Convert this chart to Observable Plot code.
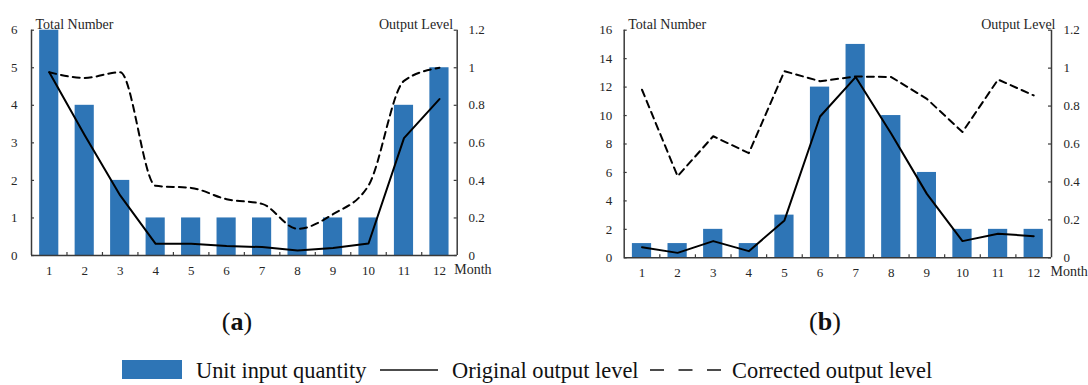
<!DOCTYPE html>
<html>
<head>
<meta charset="utf-8">
<script src="https://cdn.jsdelivr.net/npm/d3@7"></script>
<script src="https://cdn.jsdelivr.net/npm/@observablehq/plot@0.6"></script>
<style>
  body { margin: 0; background: #fff; font-family: "Liberation Serif", "Times New Roman", serif; }
  #root { position: relative; width: 1088px; height: 385px; overflow: hidden; background: #fff; }
  .abs { position: absolute; }
  .leg { position: absolute; font-size: 22.4px; line-height: 22px; color: #111; white-space: nowrap; }
  .cap { position: absolute; font-size: 26px; line-height: 26px; color: #111; width: 100px; text-align: center; }
</style>
</head>
<body>
<div id="root">
  <div id="chartA" class="abs" style="left:0;top:0"></div>
  <div id="chartB" class="abs" style="left:540px;top:0"></div>
  <div class="cap" style="left:187px;top:309px">(<b>a</b>)</div>
  <div class="cap" style="left:775px;top:309px">(<b>b</b>)</div>
  <div class="abs" style="left:122px;top:360px;width:60px;height:19px;background:#2e75b6"></div>
  <div class="leg" id="leg1" style="left:196px;top:360px"></div>
  <svg class="abs" style="left:380px;top:365px" width="60" height="10"><line x1="0" x2="58" y1="5" y2="5" stroke="#111" stroke-width="1.6"/></svg>
  <div class="leg" id="leg2" style="left:452px;top:360px"></div>
  <svg class="abs" style="left:650px;top:365px" width="75" height="10"><line x1="0" x2="71" y1="5" y2="5" stroke="#111" stroke-width="1.6" stroke-dasharray="14,14.5"/></svg>
  <div class="leg" id="leg3" style="left:732px;top:360px"></div>
</div>
<script>
// ---- data ----
const months = [1, 2, 3, 4, 5, 6, 7, 8, 9, 10, 11, 12];

// (a)
const countsA = [6, 4, 2, 1, 1, 1, 1, 1, 1, 1, 4, 5];
const originalA = [0.976, 0.64, 0.32, 0.062, 0.062, 0.05, 0.045, 0.027, 0.04, 0.064, 0.625, 0.833];
const correctedA = [0.976, 0.946, 0.976, 0.371, 0.36, 0.30, 0.275, 0.142, 0.22, 0.373, 0.93, 1.0];
const countTicksA = [0, 1, 2, 3, 4, 5, 6];

// (b)
const countsB = [1, 1, 2, 1, 3, 12, 15, 10, 6, 2, 2, 2];
const originalB = [0.056, 0.026, 0.088, 0.035, 0.197, 0.745, 0.953, 0.654, 0.337, 0.088, 0.127, 0.114];
const correctedB = [0.886, 0.43, 0.641, 0.552, 0.984, 0.931, 0.956, 0.953, 0.838, 0.663, 0.94, 0.856];
const countTicksB = [0, 2, 4, 6, 8, 10, 12, 14, 16];

const levelTicks = [0, 0.2, 0.4, 0.6, 0.8, 1, 1.2];

const leftTitle = "Total Number";
const rightTitle = "Output Level";
const xTitle = "Month";
const legendLabels = ["Unit input quantity", "Original output level", "Corrected output level"];

// ---- drawing ----
const FONT = '"Liberation Serif", "Times New Roman", serif';
const BAR = "#2e75b6";
const AXIS = "#3a3a3a";

function drawChart(o) {
  const countMax = o.countTicks[o.countTicks.length - 1];
  const k = countMax / levelTicks[levelTicks.length - 1];
  const rows = months.map((m, i) => ({
    month: m, count: o.counts[i], original: o.original[i] * k, corrected: o.corrected[i] * k
  }));
  const bounds = months.slice(0, -1).map(m => m + 0.5);
  return Plot.plot({
    width: o.width, height: 290,
    marginTop: 29.7, marginBottom: o.marginBottom, marginLeft: o.marginLeft, marginRight: o.marginRight,
    x: {domain: [0.5, 12.5], axis: null},
    y: {domain: [0, countMax], axis: null, label: null},
    style: {fontFamily: FONT, fontSize: "13px", color: "#262626", background: "transparent", overflow: "visible"},
    marks: [
      Plot.rectY(rows, {x1: d => d.month - 0.27, x2: d => d.month + 0.27, y1: 0, y2: "count", fill: BAR}),
      Plot.line(rows, {x: "month", y: "corrected", stroke: "#000", strokeWidth: 2, strokeDasharray: "7,5", curve: o.curveCorrected}),
      Plot.line(rows, {x: "month", y: "original", stroke: "#000", strokeWidth: 2}),
      Plot.ruleX([0.5, 12.5], {stroke: AXIS, strokeWidth: 1.5}),
      Plot.ruleY([0], {stroke: AXIS, strokeWidth: 1.5}),
      Plot.ruleY(o.countTicks, {x1: 0.5, x2: 0.5, insetRight: -3, stroke: AXIS, strokeWidth: 1.2}),
      Plot.ruleY(levelTicks.map(v => v * k), {x1: 12.5, x2: 12.5, insetLeft: -3, stroke: AXIS, strokeWidth: 1.2}),
      Plot.ruleX(bounds, {y1: 0, y2: 0, insetTop: -3, stroke: AXIS, strokeWidth: 1.2}),
      Plot.axisY({anchor: "left", ticks: o.countTicks, tickSize: 0, tickPadding: o.padLeft, label: null,
                  tickFormat: d => String(d)}),
      Plot.axisY({anchor: "right", ticks: levelTicks.map(v => v * k), tickSize: 0, tickPadding: o.padRight, label: null,
                  tickFormat: d => String(Math.round(d / k * 10) / 10)}),
      Plot.axisX({anchor: "bottom", ticks: months, tickSize: 0, tickPadding: 10, label: null, tickFormat: d => String(d)}),
      Plot.text([leftTitle], {frameAnchor: "top-left", dx: 4, dy: -11.5, textAnchor: "start", fontSize: 14}),
      Plot.text([rightTitle], {frameAnchor: "top-right", dx: o.outDx, dy: -11.5, textAnchor: "end", fontSize: 14}),
      Plot.text([xTitle], {frameAnchor: "bottom-right", dx: o.monthDx, dy: o.monthDy, textAnchor: "start", fontSize: 14})
    ]
  });
}

document.getElementById("chartA").appendChild(drawChart({
  counts: countsA, original: originalA, corrected: correctedA, countTicks: countTicksA,
  width: 540, marginLeft: 31, marginRight: 83.3, marginBottom: 35,
  padLeft: 14, padRight: 11.3, outDx: -4, monthDx: -3, monthDy: 18.5, curveCorrected: "monotone-x"
}));
document.getElementById("chartB").appendChild(drawChart({
  counts: countsB, original: originalB, corrected: correctedB, countTicks: countTicksB,
  width: 548, marginLeft: 83.7, marginRight: 37, marginBottom: 32.7,
  padLeft: 12, padRight: 12, outDx: 4, monthDx: -1, monthDy: 18.5, curveCorrected: "linear"
}));

document.getElementById("leg1").textContent = legendLabels[0];
document.getElementById("leg2").textContent = legendLabels[1];
document.getElementById("leg3").textContent = legendLabels[2];
</script>
</body>
</html>
